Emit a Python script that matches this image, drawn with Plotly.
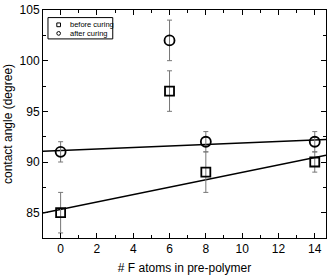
import numpy as np
import plotly.graph_objects as go

x_vals = [0, 6, 8, 14]
before_curing = [85, 97, 89, 90]
before_err = [2, 2, 2, 1]
after_curing = [91, 102, 92, 92]
after_err = [1, 2, 1, 1]
fit_idx = [0, 2, 3]  # x=6 excluded from linear fit
series_names = ["before curing", "after curing"]

x_range = [-0.97, 14.62]
y_range = [82.5, 105]

FONT = "Liberation Sans, Arial"

fig = go.Figure()

def fit_line(ys):
    xs = [x_vals[i] for i in fit_idx]
    yy = [ys[i] for i in fit_idx]
    m, b = np.polyfit(xs, yy, 1)
    xl = np.array(x_range)
    return xl, m * xl + b

for ys in (before_curing, after_curing):
    xl, yl = fit_line(ys)
    fig.add_trace(go.Scatter(x=xl, y=yl, mode="lines", line=dict(color="black", width=1.5),
                             showlegend=False, hoverinfo="skip"))

fig.add_trace(go.Scatter(
    x=x_vals, y=before_curing, mode="markers", name=series_names[0], showlegend=False,
    marker=dict(symbol="square-open", size=9, color="black", line=dict(width=1.8)),
    error_y=dict(type="data", array=before_err, color="#777777", thickness=1, width=2.5),
))
fig.add_trace(go.Scatter(
    x=x_vals, y=after_curing, mode="markers", name=series_names[1], showlegend=False,
    marker=dict(symbol="circle-open", size=10, color="black", line=dict(width=1.8)),
    error_y=dict(type="data", array=after_err, color="#777777", thickness=1, width=2.5),
))

# manual compact legend (paper coordinates)
fig.add_shape(type="rect", xref="paper", yref="paper", x0=0.0176, x1=0.2465, y0=0.8732, y1=0.9667,
              line=dict(color="black", width=1), fillcolor="white", layer="above")
mx, hx, hy = 0.0553, 0.0065, 0.0082
row_y = [0.935, 0.8974]
fig.add_shape(type="rect", xref="paper", yref="paper", x0=mx - hx, x1=mx + hx,
              y0=row_y[0] - hy, y1=row_y[0] + hy, line=dict(color="black", width=1), layer="above")
fig.add_shape(type="circle", xref="paper", yref="paper", x0=mx - hx, x1=mx + hx,
              y0=row_y[1] - hy, y1=row_y[1] + hy, line=dict(color="black", width=1), layer="above")
for name, ry in zip(series_names, row_y):
    fig.add_annotation(xref="paper", yref="paper", x=0.088, y=ry, text=name, showarrow=False,
                       xanchor="left", yanchor="middle",
                       font=dict(family=FONT, size=7.5, color="black"))

axis_common = dict(showgrid=False, zeroline=False, showline=True, linecolor="black", linewidth=1,
                   mirror="ticks", ticks="inside", ticklen=5, tickcolor="black",
                   tickfont=dict(family=FONT, size=12, color="black"))

fig.update_xaxes(range=x_range, dtick=2, tick0=0,
                 minor=dict(dtick=1, ticks="inside", ticklen=3, tickcolor="black"),
                 title=dict(text="# F atoms in pre-polymer", font=dict(family=FONT, size=12, color="black"), standoff=8),
                 **axis_common)
fig.update_yaxes(range=y_range, dtick=5, tick0=85,
                 minor=dict(dtick=2.5, ticks="inside", ticklen=3, tickcolor="black"),
                 title=dict(text="contact angle (degree)", font=dict(family=FONT, size=12, color="black"), standoff=4),
                 **axis_common)

fig.update_layout(
    width=330, height=279,
    margin=dict(l=43, r=3, t=7, b=41),
    paper_bgcolor="white", plot_bgcolor="white",
    showlegend=False,
)

fig.write_html("out.html", config={"displayModeBar": False},
               post_script="document.body.style.margin='0';document.body.style.overflow='hidden';")
